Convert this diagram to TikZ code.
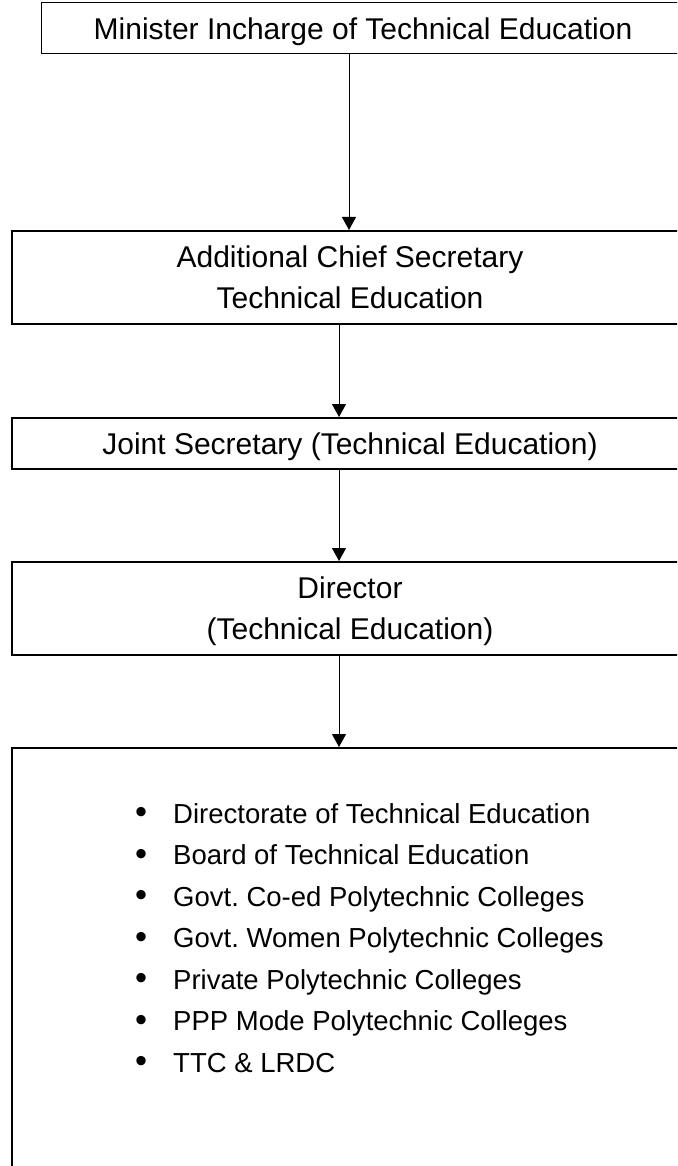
\documentclass[tikz,border=0pt]{standalone}
\usepackage{fontspec}
\usepackage{graphicx}
\setmainfont{Liberation Sans}
\usetikzlibrary{arrows.meta}
\newcommand{\itemdot}{\makebox[38pt][l]{\raisebox{-0.5pt}{\scalebox{1.25}{\textbullet}}}}
\newcommand{\nodepth}[1]{\raisebox{0pt}[\height][0pt]{#1}}

\begin{document}
\begin{tikzpicture}[x=1pt,y=-1pt,
    topbox/.style={draw,line width=1pt,inner sep=0pt,minimum width=644pt,minimum height=51pt,text depth=0pt,font=\fontsize{30}{41}\selectfont},
    postbox/.style={draw,line width=2pt,inner sep=0pt,minimum width=676pt,align=center,font=\fontsize{30}{41}\selectfont},
    unititem/.style={anchor=base west,inner sep=0pt,font=\fontsize{27.5}{33}\selectfont},
    link/.style={line width=1pt,-{Triangle[length=13pt,width=14pt]}}]
  \useasboundingbox (0,0) rectangle (677,1166);
  \clip (0,0) rectangle (677,1166);
  \draw
    (363,28.5) node[topbox] (minister){Minister Incharge of Technical Education}
    (350,277.5) node[postbox,minimum height=93pt] (acs){Additional Chief Secretary\\Technical Education}
    (350,443.5) node[postbox,minimum height=51pt,text depth=0pt] (jointsec){Joint Secretary (Technical Education)}
    (350,608.5) node[postbox,minimum height=93pt] (director){Director\\\nodepth{(Technical Education)}}
    (350,974) node[postbox,minimum height=452pt] (units){};
  \draw
    (135,823) node[unititem] (u1){\itemdot Directorate of Technical Education}
    (135,864.5) node[unititem] (u2){\itemdot Board of Technical Education}
    (135,906) node[unititem] (u3){\itemdot Govt.\ Co-ed Polytechnic Colleges}
    (135,947.5) node[unititem] (u4){\itemdot Govt.\ Women Polytechnic Colleges}
    (135,989) node[unititem] (u5){\itemdot Private Polytechnic Colleges}
    (135,1030.5) node[unititem] (u6){\itemdot PPP Mode Polytechnic Colleges}
    (135,1072) node[unititem] (u7){\itemdot TTC \& LRDC};
  \begin{scope}[link]
    \draw ([xshift=-14pt]minister.south) to ([xshift=-1pt]acs.north);
    \draw ([xshift=-11pt]acs.south) to ([xshift=-11pt]jointsec.north);
    \draw ([xshift=-11pt]jointsec.south) to ([xshift=-11pt]director.north);
    \draw ([xshift=-11pt]director.south) to ([xshift=-11pt]units.north);
  \end{scope}
\end{tikzpicture}
\end{document}
